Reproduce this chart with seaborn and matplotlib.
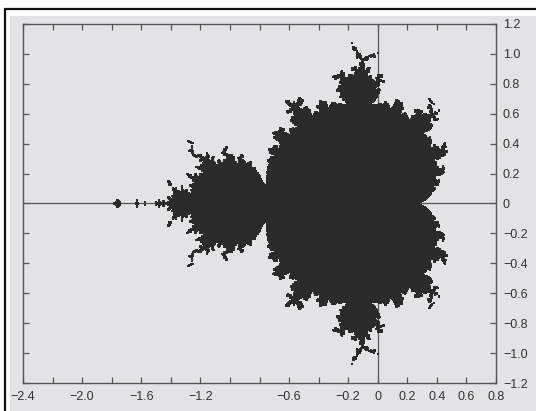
import numpy as np
import matplotlib
matplotlib.use("Agg")
import matplotlib.pyplot as plt
from matplotlib.patches import Rectangle
from matplotlib.colors import ListedColormap
import seaborn as sns

# ---- chart definition ----
x_range = [-2.4, 0.8]
y_range = [-1.2, 1.2]
max_iter = 120
dark_from_iter = 24          # points surviving this many iterations are drawn dark
ink_spread = 2               # grid cells of ink spread (scan thickening)
grid_cols = 960
grid_rows = 720

x_ticks = [-2.4, -2.2, -2.0, -1.8, -1.6, -1.4, -1.2, -1.0, -0.8, -0.6,
           -0.4, -0.2, 0.0, 0.2, 0.4, 0.6, 0.8]
x_labels = ["\u22122.4", "", "\u22122.0", "", "\u22121.6", "", "\u22121.2", "", "",
            "\u22120.6", "", "\u22120.2", "0", "0.2", "0.4", "0.6", "0.8"]
y_ticks = [1.2, 1.0, 0.8, 0.6, 0.4, 0.2, 0.0, -0.2, -0.4, -0.6, -0.8, -1.0, -1.2]
y_labels = ["1.2", "1.0", "0.8", "0.6", "0.4", "0.2", "0",
            "\u22120.2", "\u22120.4", "\u22120.6", "\u22120.8", "\u22121.0", "\u22121.2"]

BG = "#e3e3e6"
INK = "#2b2b2b"
AXC = "#555555"

# ---- escape-time grid ----
dx = (x_range[1] - x_range[0]) / grid_cols
dy = (y_range[1] - y_range[0]) / grid_rows
xs = x_range[0] + (np.arange(grid_cols) + 0.5) * dx
ys = y_range[1] - (np.arange(grid_rows) + 0.5) * dy
C = xs[None, :] + 1j * ys[:, None]
Z = np.zeros_like(C)
count = np.zeros(C.shape, dtype=int)
alive = np.ones(C.shape, dtype=bool)
for i in range(max_iter):
    Z[alive] = Z[alive] ** 2 + C[alive]
    esc = alive & (np.abs(Z) > 2)
    alive &= ~esc
    count[alive] += 1
core = count >= dark_from_iter
spread = core.copy()
for sy in range(-ink_spread, ink_spread + 1):
    for sx in range(-ink_spread, ink_spread + 1):
        spread |= np.roll(np.roll(core, sy, axis=0), sx, axis=1)
inside = spread.astype(float)

sns.set_style("white")
plt.rcParams["font.family"] = ["Liberation Sans", "DejaVu Sans"]

fig = plt.figure(figsize=(5.36, 4.11), dpi=100)
fig.patch.set_facecolor("white")
W, H = 536, 411
fig.patches.append(Rectangle((10 / W, 0), 1, 1 - 16 / H, transform=fig.transFigure,
                             facecolor=BG, edgecolor="none", zorder=-10))
fig.lines.append(plt.Line2D([5 / W, 5 / W], [0, 1 - 9 / H], transform=fig.transFigure,
                            color="#111111", lw=1.6, zorder=-5))
fig.lines.append(plt.Line2D([5 / W, 1], [1 - 9 / H, 1 - 9 / H], transform=fig.transFigure,
                            color="#111111", lw=1.6, zorder=-5))

ax = fig.add_axes([23 / W, (H - 383) / H, (496 - 23) / W, (383 - 24) / H])
ax.set_facecolor(BG)
sns.heatmap(inside, ax=ax, mask=inside < 0.5, cmap=ListedColormap([INK, INK]),
            cbar=False, xticklabels=False, yticklabels=False, rasterized=True)


def col(v):
    return (v - x_range[0]) / (x_range[1] - x_range[0]) * grid_cols


def row(v):
    return (y_range[1] - v) / (y_range[1] - y_range[0]) * grid_rows


ax.axhline(row(0.0), color=AXC, lw=0.9, zorder=0.5)
ax.axvline(col(0.0), color=AXC, lw=0.9, zorder=0.5)

for s in ax.spines.values():
    s.set_visible(True)
    s.set_color(AXC)
    s.set_linewidth(1.0)

ax.set_xticks([col(v) for v in x_ticks])
ax.set_xticklabels(x_labels)
ax.set_yticks([row(v) for v in y_ticks])
ax.set_yticklabels(y_labels)
ax.tick_params(axis="both", direction="in", length=4, width=0.9, color=AXC,
               labelsize=9, labelcolor="#333333",
               top=True, bottom=True, left=True, right=True,
               labelleft=False, labelright=True, labelbottom=True, labeltop=False)
ax.tick_params(axis="x", pad=6)
ax.tick_params(axis="y", pad=5)
for t in ax.get_yticklabels():
    t.set_rotation(0)
for t in ax.get_xticklabels():
    t.set_rotation(0)

fig.savefig("out.png", dpi=100, facecolor=fig.get_facecolor())
